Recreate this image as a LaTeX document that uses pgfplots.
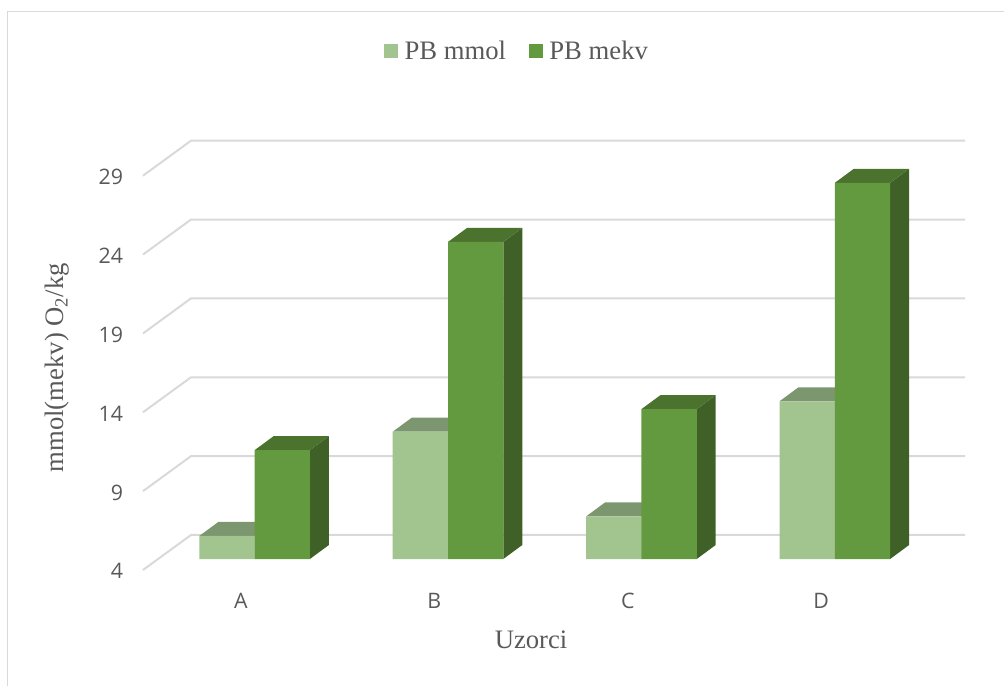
\documentclass[border=0pt]{standalone}
\usepackage{pgfplots}
\pgfplotsset{compat=1.18}
\usepackage{pgfplotstable}
\usepackage{fontspec}
\setmainfont{Liberation Serif}
\newfontfamily\tickfont{Open Sans}

\definecolor{txt}{HTML}{595959}
\definecolor{gridc}{HTML}{D9D9D9}
\definecolor{lfront}{HTML}{A2C48F}
\definecolor{ltop}{HTML}{7C9670}
\definecolor{dfront}{HTML}{63993F}
\definecolor{dtop}{HTML}{4B732D}
\definecolor{dside}{HTML}{3F6128}

\pgfplotstableread{
x mmol mekv
0 5.46 10.9
1 12.07 24.1
2 6.7 13.5
3 14.0 27.85
}\pbdata

% depth of the fake 3D: 19px x 14px for bars, 48px x 35px for the walls
\def\depthx{0.0982}
\def\depthy{0.888}
\def\floorshift{8.25pt}

% top and side face of one bar: x of left edge, value, top colour, side colour
\newcommand{\barfaces}[4]{%
  \pgfmathsetmacro\xb{#1+0.286}%
  \pgfmathsetmacro\xc{#1+0.286+\depthx}%
  \pgfmathsetmacro\xd{#1+\depthx}%
  \pgfmathsetmacro\yt{#2+\depthy}%
  \pgfmathsetmacro\yf{4+\depthy}%
  \edef\temp{\noexpand\addplot[forget plot,draw=none,fill=#4,yshift=\floorshift]
    coordinates {(\xb,4) (\xc,\yf) (\xc,\yt) (\xb,#2)} -- cycle;
    \noexpand\addplot[forget plot,draw=none,fill=#3,yshift=\floorshift]
    coordinates {(#1,#2) (\xb,#2) (\xc,\yt) (\xd,\yt)} -- cycle;}%
  \temp}

% one wall line: tick value, value at the back
\newcommand{\wallline}[2]{%
  \addplot[forget plot,gridc,line width=1.5pt]
    coordinates {(-0.5067,#1) (-0.2585,#2) (3.7435,#2)};}

\begin{document}
\begin{tikzpicture}
\useasboundingbox (-107.25pt,-87pt) rectangle (645.75pt,427.5pt);
\draw[gridc,line width=1.1pt] (-101.6pt,-87pt) -- (-101.6pt,419pt) -- (645.75pt,419pt);
\begin{axis}[
    at={(0,0)},anchor=south west,
    name=main,
    scale only axis,
    width=616.5pt,height=321.75pt,
    xmin=-0.5067,xmax=3.7435,
    ymin=4,ymax=31.2,
    clip=false,
    no markers,
    axis line style={draw=none},
    tick style={draw=none},
    xtick={0,1,2,3},
    xticklabels={A,B,C,D},
    ytick={4,9,14,19,24,29},
    tick label style={font=\fontsize{16}{18}\tickfont,text=txt},
    /pgf/number format/assume math mode=true,
    xticklabel style={yshift=-14pt},
    yticklabel style={xshift=-11.5pt,yshift=-1pt},
    xlabel={Uzorci},
    ylabel={mmol(mekv) O\textsubscript{2}/kg},
    label style={font=\fontsize{20}{23}\selectfont,text=txt},
    xlabel style={at={(axis cs:1.4999,4)},anchor=center,yshift=-52pt},
    ylabel style={at={(axis cs:-0.5067,16.83)},anchor=center,yshift=64.5pt},
    legend style={at={(0.4553,1.210)},anchor=center,legend columns=2,draw=none,fill=none,
      font=\fontsize{20}{23}\selectfont,text=txt,
      /tikz/every odd column/.append style={column sep=3pt},
      /tikz/every even column/.append style={column sep=15pt}},
]
\wallline{4}{6.22}
\wallline{9}{11.22}
\wallline{14}{16.22}
\wallline{19}{21.22}
\wallline{24}{26.22}
\wallline{29}{31.22}

% light series, faces first
\barfaces{-0.2156}{5.46}{ltop}{lfront}
\barfaces{0.7844}{12.07}{ltop}{lfront}
\barfaces{1.7844}{6.7}{ltop}{lfront}
\barfaces{2.7844}{14.0}{ltop}{lfront}
\addplot[ybar,bar width=41.5pt,bar shift=-10.5pt,draw=none,fill=lfront,yshift=\floorshift,
  legend image code/.code={\fill[lfront] (-3.75pt,-13.25pt) rectangle (6.75pt,-2.75pt);}]
  table[x=x,y=mmol] {\pbdata};
\addlegendentry{PB mmol}

% dark series
\barfaces{0.0703}{10.9}{dtop}{dside}
\barfaces{1.0703}{24.1}{dtop}{dside}
\barfaces{2.0703}{13.5}{dtop}{dside}
\barfaces{3.0703}{27.85}{dtop}{dside}
\addplot[ybar,bar width=41.5pt,bar shift=31pt,draw=none,fill=dfront,yshift=\floorshift,
  legend image code/.code={\fill[dfront] (-3.75pt,-13.25pt) rectangle (6.75pt,-2.75pt);}]
  table[x=x,y=mekv] {\pbdata};
\addlegendentry{PB mekv}
\end{axis}
\end{tikzpicture}
\end{document}
